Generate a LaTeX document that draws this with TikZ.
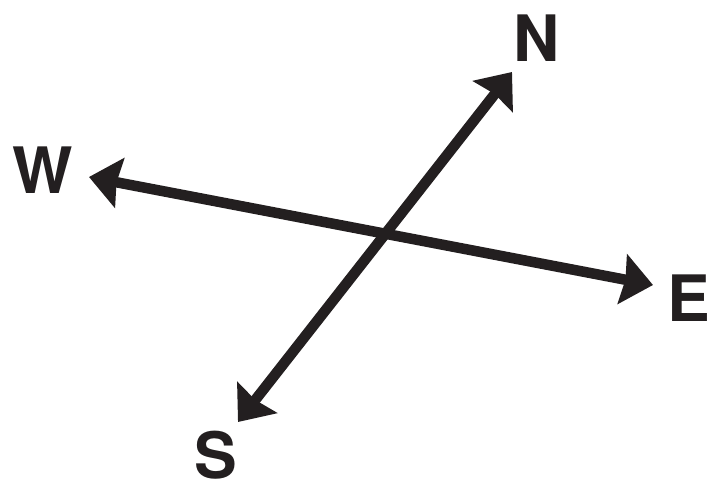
\documentclass[tikz,border=0pt]{standalone}
\usepackage{fontspec}
\setmainfont{TeX Gyre Heros}
\usepackage{tikz}
\usetikzlibrary{arrows.meta, positioning}
\definecolor{inkblack}{RGB}{35,31,32}

\begin{document}
\begin{tikzpicture}[
  x=1pt, y=-1pt,
  axis/.style={draw=inkblack, line width=10.5pt,
               {Stealth[length=31pt, width=50pt, inset=3pt, fill=inkblack]}-{Stealth[length=31pt, width=50pt, inset=3pt, fill=inkblack]}},
  lbl/.style={font=\fontsize{64}{64}\selectfont\bfseries, text=inkblack, inner sep=0pt},
]
  \useasboundingbox (0,0) rectangle (712,488);

  \coordinate (tipN) at (512,72);
  \coordinate (tipS) at (238,422);
  \coordinate (tipW) at (89,177);
  \coordinate (tipE) at (653,285);

  \draw[axis] (tipS) -- (tipN);
  \draw[axis] (tipW) -- (tipE);

  \node[lbl] (lblN) at (537,38)  {N};
  \node[lbl] (lblW) at (43,170)  {W};
  \node[lbl] (lblE) at (689,298) {E};
  \node[lbl] (lblS) at (216,455) {S};
\end{tikzpicture}
\end{document}
